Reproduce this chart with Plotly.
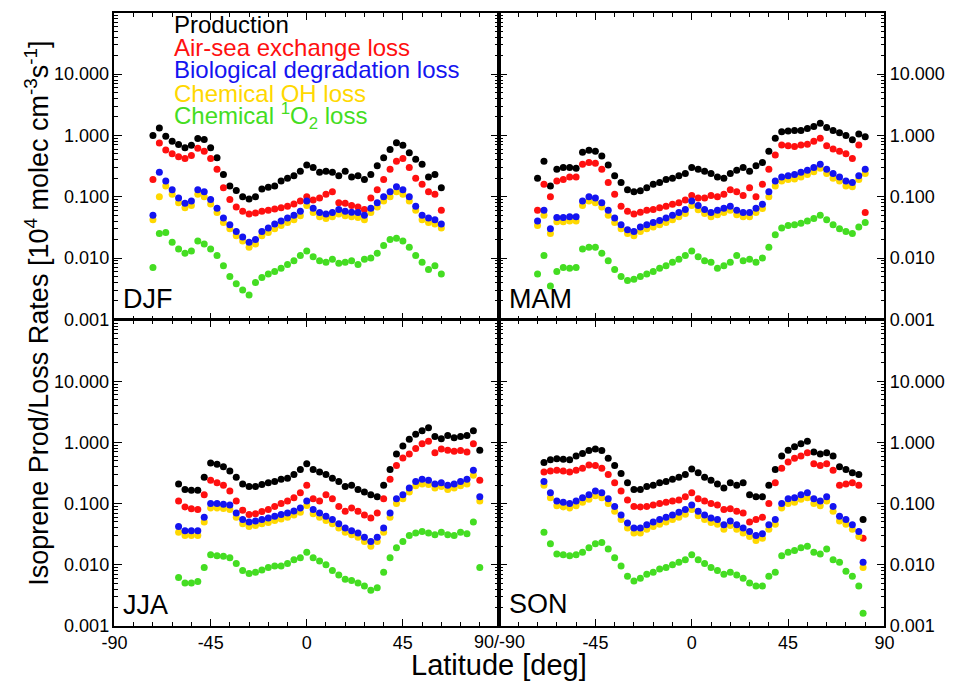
import plotly.graph_objects as go

# ---------------- data ----------------
djf_lat = [-72, -69, -66, -63, -60, -57, -54, -51, -48, -45, -42, -39, -36, -33, -30, -27,
           -24, -21, -18, -15, -12, -9, -6, -3, 0, 3, 6, 9, 12, 15, 18, 21, 24, 27, 30, 33,
           36, 39, 42, 45, 48, 51, 54, 57, 60, 63]
djf_prod = [1.0, 1.32, 0.97, 0.80, 0.71, 0.63, 0.69, 0.89, 0.86, 0.63, 0.43, 0.23, 0.15, 0.126, 0.10, 0.092,
            0.10, 0.134, 0.142, 0.15, 0.18, 0.20, 0.22, 0.26, 0.33, 0.30, 0.25, 0.26, 0.25, 0.22, 0.26, 0.21,
            0.22, 0.19, 0.23, 0.32, 0.43, 0.59, 0.76, 0.69, 0.52, 0.41, 0.34, 0.21, 0.23, 0.14]
djf_airsea = [0.19, 0.75, 0.58, 0.50, 0.45, 0.42, 0.47, 0.62, 0.55, 0.42, 0.28, 0.14, 0.09, 0.068, 0.058, 0.052,
              0.054, 0.058, 0.060, 0.063, 0.066, 0.070, 0.076, 0.085, 0.10, 0.088, 0.095, 0.11, 0.12, 0.08, 0.078, 0.072,
              0.068, 0.062, 0.095, 0.13, 0.19, 0.28, 0.38, 0.42, 0.30, 0.20, 0.16, 0.12, 0.11, 0.06]
djf_bio = [0.05, 0.25, 0.18, 0.13, 0.095, 0.078, 0.085, 0.13, 0.12, 0.09, 0.065, 0.045, 0.035, 0.027, 0.022, 0.018,
           0.020, 0.027, 0.031, 0.036, 0.040, 0.045, 0.050, 0.058, 0.085, 0.065, 0.055, 0.052, 0.055, 0.062, 0.058, 0.056,
           0.055, 0.050, 0.065, 0.080, 0.10, 0.12, 0.145, 0.13, 0.10, 0.07, 0.05, 0.045, 0.042, 0.036]
djf_oh = [0.042, 0.10, 0.15, 0.11, 0.08, 0.066, 0.072, 0.11, 0.10, 0.076, 0.055, 0.038, 0.030, 0.023, 0.019, 0.015,
          0.017, 0.023, 0.026, 0.030, 0.034, 0.038, 0.042, 0.049, 0.072, 0.055, 0.047, 0.044, 0.047, 0.052, 0.049, 0.047,
          0.046, 0.042, 0.055, 0.068, 0.085, 0.10, 0.12, 0.11, 0.085, 0.06, 0.042, 0.038, 0.036, 0.031]
djf_o2 = [0.007, 0.025, 0.026, 0.018, 0.014, 0.012, 0.013, 0.019, 0.017, 0.014, 0.011, 0.0075, 0.005, 0.0038, 0.003, 0.0025,
          0.004, 0.0048, 0.0055, 0.006, 0.0068, 0.0078, 0.009, 0.011, 0.013, 0.0105, 0.009, 0.0085, 0.0095, 0.0082, 0.0085, 0.009,
          0.0078, 0.0095, 0.010, 0.012, 0.016, 0.020, 0.021, 0.019, 0.015, 0.011, 0.0085, 0.0065, 0.0075, 0.0055]

mam_lat = [-72, -69, -66, -63, -60, -57, -54, -51, -48, -45, -42, -39, -36, -33, -30, -27,
           -24, -21, -18, -15, -12, -9, -6, -3, 0, 3, 6, 9, 12, 15, 18, 21, 24, 27, 30, 33,
           36, 39, 42, 45, 48, 51, 54, 57, 60, 63, 66, 69, 72, 75, 78, 81]
mam_prod = [0.2, 0.38, 0.15, 0.28, 0.30, 0.30, 0.29, 0.53, 0.57, 0.55, 0.46, 0.33, 0.22, 0.17, 0.13, 0.12,
            0.125, 0.14, 0.16, 0.17, 0.19, 0.20, 0.22, 0.24, 0.30, 0.28, 0.26, 0.24, 0.21, 0.20, 0.24, 0.27,
            0.30, 0.26, 0.32, 0.36, 0.55, 0.90, 1.15, 1.18, 1.2, 1.2, 1.3, 1.4, 1.58, 1.35, 1.2, 1.1,
            1.0, 0.85, 1.05, 0.95]
mam_airsea = [0.06, 0.16, 0.10, 0.18, 0.19, 0.21, 0.21, 0.34, 0.36, 0.35, 0.28, 0.17, 0.11, 0.07, 0.058, 0.052,
              0.056, 0.06, 0.062, 0.066, 0.07, 0.075, 0.08, 0.088, 0.105, 0.095, 0.095, 0.105, 0.10, 0.11, 0.13, 0.12,
              0.105, 0.14, 0.10, 0.16, 0.28, 0.48, 0.70, 0.68, 0.66, 0.70, 0.72, 0.80, 0.90, 0.68, 0.60, 0.55,
              0.50, 0.42, 0.70, 0.055]
mam_bio = [0.04, 0.06, 0.03, 0.046, 0.046, 0.047, 0.047, 0.085, 0.10, 0.095, 0.08, 0.06, 0.045, 0.035, 0.029, 0.027,
           0.032, 0.035, 0.038, 0.041, 0.045, 0.05, 0.055, 0.062, 0.085, 0.072, 0.062, 0.055, 0.06, 0.065, 0.07, 0.06,
           0.055, 0.055, 0.065, 0.075, 0.12, 0.18, 0.21, 0.22, 0.23, 0.25, 0.27, 0.30, 0.34, 0.28, 0.24, 0.21,
           0.18, 0.17, 0.22, 0.28]
mam_oh = [0.034, 0.05, 0.025, 0.039, 0.039, 0.04, 0.04, 0.072, 0.085, 0.08, 0.068, 0.05, 0.038, 0.03, 0.025, 0.023,
          0.027, 0.03, 0.032, 0.035, 0.038, 0.042, 0.047, 0.053, 0.072, 0.061, 0.053, 0.047, 0.051, 0.055, 0.06, 0.051,
          0.047, 0.047, 0.055, 0.064, 0.10, 0.15, 0.18, 0.19, 0.195, 0.21, 0.23, 0.255, 0.29, 0.24, 0.20, 0.18,
          0.15, 0.145, 0.19, 0.24]
mam_o2 = [0.0055, 0.011, 0.0035, 0.006, 0.007, 0.0068, 0.007, 0.014, 0.015, 0.015, 0.012, 0.009, 0.0065, 0.005, 0.0043, 0.0045,
          0.005, 0.0055, 0.006, 0.0068, 0.0075, 0.0085, 0.0095, 0.011, 0.013, 0.0105, 0.009, 0.0085, 0.0068, 0.0075, 0.0085, 0.011,
          0.009, 0.0095, 0.0085, 0.010, 0.015, 0.024, 0.031, 0.034, 0.035, 0.037, 0.04, 0.044, 0.05, 0.042, 0.035, 0.03,
          0.027, 0.025, 0.032, 0.038]

jja_lat = [-60, -57, -54, -51, -48, -45, -42, -39, -36, -33, -30, -27, -24, -21, -18, -15,
           -12, -9, -6, -3, 0, 3, 6, 9, 12, 15, 18, 21, 24, 27, 30, 33,
           36, 39, 42, 45, 48, 51, 54, 57, 60, 63, 66, 69, 72, 75, 78, 81]
jja_prod = [0.21, 0.17, 0.165, 0.165, 0.27, 0.46, 0.44, 0.40, 0.34, 0.27, 0.21, 0.19, 0.19, 0.205, 0.22, 0.23,
            0.25, 0.26, 0.30, 0.36, 0.45, 0.36, 0.33, 0.30, 0.26, 0.23, 0.19, 0.20, 0.17, 0.155, 0.14, 0.13,
            0.20, 0.36, 0.65, 0.88, 1.13, 1.36, 1.55, 1.75, 1.25, 1.15, 1.3, 1.2, 1.25, 1.3, 1.55, 0.75]
jja_airsea = [0.11, 0.088, 0.082, 0.080, 0.14, 0.24, 0.22, 0.20, 0.16, 0.11, 0.078, 0.066, 0.068, 0.074, 0.08, 0.09,
              0.10, 0.11, 0.125, 0.15, 0.20, 0.12, 0.11, 0.14, 0.12, 0.09, 0.075, 0.085, 0.075, 0.065, 0.058, 0.07,
              0.12, 0.25, 0.42, 0.56, 0.65, 0.8, 0.95, 1.05, 0.68, 0.78, 0.75, 0.72, 0.74, 0.7, 0.95, 0.24]
jja_bio = [0.042, 0.036, 0.036, 0.036, 0.06, 0.10, 0.10, 0.098, 0.095, 0.07, 0.055, 0.05, 0.052, 0.055, 0.058, 0.062,
           0.066, 0.07, 0.076, 0.085, 0.11, 0.08, 0.07, 0.062, 0.055, 0.047, 0.04, 0.036, 0.033, 0.028, 0.024, 0.028,
           0.04, 0.07, 0.12, 0.14, 0.18, 0.23, 0.25, 0.24, 0.21, 0.22, 0.2, 0.21, 0.23, 0.25, 0.35, 0.13]
jja_oh = [0.034, 0.03, 0.03, 0.03, 0.05, 0.085, 0.085, 0.083, 0.08, 0.06, 0.047, 0.042, 0.044, 0.047, 0.049, 0.053,
          0.056, 0.06, 0.065, 0.072, 0.093, 0.068, 0.06, 0.053, 0.047, 0.04, 0.034, 0.031, 0.028, 0.024, 0.02, 0.024,
          0.034, 0.06, 0.1, 0.12, 0.155, 0.195, 0.21, 0.205, 0.18, 0.19, 0.17, 0.18, 0.195, 0.21, 0.29, 0.11]
jja_o2 = [0.0062, 0.005, 0.005, 0.0053, 0.009, 0.0145, 0.014, 0.0138, 0.013, 0.0105, 0.008, 0.0072, 0.0075, 0.0082, 0.009, 0.0095,
          0.0095, 0.0105, 0.012, 0.013, 0.016, 0.013, 0.0115, 0.01, 0.008, 0.0068, 0.0058, 0.0055, 0.005, 0.0045, 0.0038, 0.0042,
          0.0075, 0.013, 0.019, 0.024, 0.03, 0.033, 0.035, 0.033, 0.031, 0.034, 0.031, 0.03, 0.034, 0.032, 0.05, 0.009]

son_lat = [-69, -66, -63, -60, -57, -54, -51, -48, -45, -42, -39, -36, -33, -30, -27, -24,
           -21, -18, -15, -12, -9, -6, -3, 0, 3, 6, 9, 12, 15, 18, 21, 24,
           27, 30, 33, 36, 39, 42, 45, 48, 51, 54, 57, 60, 63, 66, 69, 72, 75, 78, 80]
son_prod = [0.47, 0.52, 0.54, 0.53, 0.52, 0.6, 0.66, 0.74, 0.78, 0.74, 0.55, 0.42, 0.31, 0.22, 0.17, 0.17,
            0.19, 0.2, 0.22, 0.23, 0.25, 0.27, 0.3, 0.37, 0.32, 0.27, 0.24, 0.21, 0.18, 0.22, 0.2, 0.22,
            0.14, 0.13, 0.13, 0.2, 0.36, 0.6, 0.75, 0.85, 0.95, 1.05, 0.7, 0.65, 0.68, 0.6, 0.4, 0.36, 0.32, 0.3, 0.055]
son_airsea = [0.33, 0.34, 0.35, 0.34, 0.33, 0.35, 0.38, 0.43, 0.42, 0.38, 0.30, 0.22, 0.16, 0.115, 0.09, 0.088,
              0.09, 0.095, 0.1, 0.105, 0.11, 0.115, 0.13, 0.15, 0.12, 0.11, 0.1, 0.095, 0.08, 0.082, 0.075, 0.07,
              0.05, 0.055, 0.06, 0.1, 0.22, 0.38, 0.48, 0.55, 0.6, 0.68, 0.45, 0.42, 0.45, 0.35, 0.2, 0.21, 0.22, 0.2, 0.027]
son_bio = [0.23, 0.15, 0.11, 0.105, 0.1, 0.11, 0.125, 0.14, 0.16, 0.15, 0.12, 0.09, 0.065, 0.048, 0.04, 0.04,
           0.045, 0.05, 0.055, 0.06, 0.065, 0.072, 0.08, 0.095, 0.075, 0.065, 0.058, 0.055, 0.045, 0.052, 0.045, 0.04,
           0.035, 0.03, 0.032, 0.045, 0.055, 0.1, 0.12, 0.125, 0.14, 0.15, 0.12, 0.11, 0.13, 0.09, 0.062, 0.055, 0.045, 0.035, 0.011]
son_oh = [0.2, 0.125, 0.092, 0.088, 0.085, 0.092, 0.105, 0.118, 0.135, 0.125, 0.1, 0.075, 0.055, 0.04, 0.033, 0.033,
          0.038, 0.042, 0.046, 0.05, 0.055, 0.06, 0.067, 0.08, 0.063, 0.055, 0.049, 0.046, 0.038, 0.044, 0.038, 0.033,
          0.029, 0.025, 0.027, 0.038, 0.046, 0.085, 0.1, 0.105, 0.118, 0.125, 0.1, 0.092, 0.11, 0.075, 0.052, 0.046, 0.038, 0.029, 0.009]
son_o2 = [0.034, 0.022, 0.015, 0.0145, 0.014, 0.0145, 0.016, 0.019, 0.022, 0.023, 0.018, 0.013, 0.0095, 0.0065, 0.0054, 0.006,
          0.007, 0.0075, 0.0085, 0.009, 0.01, 0.011, 0.012, 0.0145, 0.012, 0.0105, 0.009, 0.008, 0.007, 0.0075, 0.0068, 0.006,
          0.005, 0.0045, 0.0045, 0.0065, 0.0075, 0.014, 0.016, 0.017, 0.019, 0.02, 0.016, 0.015, 0.018, 0.012, 0.011, 0.0078, 0.0065, 0.0045, 0.0016]

season_names = ["DJF", "MAM", "JJA", "SON"]
series_names = ["Production", "Air-sea exchange loss", "Biological degradation loss",
                "Chemical OH loss", "Chemical <sup>1</sup>O<sub>2</sub> loss"]
y_tickvals = [0.001, 0.01, 0.1, 1, 10]
y_ticktext = ["0.001", "0.010", "0.100", "1.000", "10.000"]
x_tickvals_top = [-90, -45, 0, 45, 90]
x_tickvals_left = [-90, -45, 0, 45]
x_ticktext_left = ["-90", "-45", "0", "45"]
x_tickvals_right = [-45, 0, 45, 90]
x_ticktext_right = ["-45", "0", "45", "90"]

# ---------------- styling ----------------
W, H = 955, 690
FONT = "Liberation Sans, Arial, Helvetica, sans-serif"
C_PROD, C_AIR, C_BIO, C_OH, C_O2 = "#000000", "#ff1010", "#1414f0", "#ffd800", "#44dd22"
series_colors = [C_PROD, C_AIR, C_BIO, C_OH, C_O2]

def fx(p):
    return p / W

def fy(p):
    return 1 - p / H

panels = [
    (djf_lat, djf_prod, djf_airsea, djf_bio, djf_oh, djf_o2),
    (mam_lat, mam_prod, mam_airsea, mam_bio, mam_oh, mam_o2),
    (jja_lat, jja_prod, jja_airsea, jja_bio, jja_oh, jja_o2),
    (son_lat, son_prod, son_airsea, son_bio, son_oh, son_o2),
]

fig = go.Figure()
for i, (lat, prod, air, bio, oh, o2) in enumerate(panels):
    xa = "x" if i == 0 else f"x{i+1}"
    ya = "y" if i == 0 else f"y{i+1}"
    # draw order: production, air-sea, OH (under blue), bio, 1O2
    for vals, col in [(prod, C_PROD), (air, C_AIR), (oh, C_OH), (bio, C_BIO), (o2, C_O2)]:
        fig.add_trace(go.Scatter(x=lat, y=vals, mode="markers", xaxis=xa, yaxis=ya,
                                 marker=dict(color=col, size=7, line=dict(width=0)),
                                 showlegend=False, hoverinfo="skip"))

xdom_left = [fx(104), fx(498)]
xdom_right = [fx(498), fx(893)]
ydom_top = [fy(324), fy(13)]
ydom_bot = [fy(635), fy(325)]

minor_x = [-81, -72, -63, -54, -36, -27, -18, -9, 9, 18, 27, 36, 54, 63, 72, 81]
minor_y = [m * 10 ** e for e in range(-3, 2) for m in range(2, 10)]

def xaxis(domain, anchor, labels, tickvals, ticktext):
    d = dict(domain=domain, anchor=anchor, range=[-90, 90], showgrid=False, zeroline=False,
             showline=True, linecolor="black", linewidth=1.5, mirror="allticks",
             ticks="inside", ticklen=7, tickwidth=1.2, tickcolor="black",
             tickmode="array", tickvals=tickvals,
             showticklabels=labels, tickfont=dict(family=FONT, size=18, color="black"),
             minor=dict(tickmode="array", tickvals=minor_x, ticks="inside", ticklen=4,
                        tickwidth=1, tickcolor="black"))
    if ticktext is not None:
        d["ticktext"] = ticktext
    return d

def yaxis(domain, anchor, side, labels):
    return dict(domain=domain, anchor=anchor, type="log", range=[-3, 2], side=side,
                showgrid=False, zeroline=False, showline=True, linecolor="black", linewidth=1.5,
                mirror="allticks", ticks="inside", ticklen=8, tickwidth=1.2, tickcolor="black",
                tickmode="array", tickvals=y_tickvals, ticktext=y_ticktext,
                showticklabels=labels, tickfont=dict(family=FONT, size=18, color="black"),
                minor=dict(tickmode="array", tickvals=minor_y, ticks="inside", ticklen=4,
                           tickwidth=1, tickcolor="black"))

fig.update_layout(
    width=W, height=H, margin=dict(l=0, r=0, t=0, b=0),
    paper_bgcolor="white", plot_bgcolor="white", showlegend=False,
    xaxis=xaxis(xdom_left, "y", False, x_tickvals_top, None),
    yaxis=yaxis(ydom_top, "x", "left", True),
    xaxis2=xaxis(xdom_right, "y2", False, x_tickvals_top, None),
    yaxis2=yaxis(ydom_top, "x2", "right", True),
    xaxis3=xaxis(xdom_left, "y3", True, x_tickvals_left, x_ticktext_left),
    yaxis3=yaxis(ydom_bot, "x3", "left", True),
    xaxis4=xaxis(xdom_right, "y4", True, x_tickvals_right, x_ticktext_right),
    yaxis4=yaxis(ydom_bot, "x4", "right", True),
)

ann = []
# season labels
for name, (px, py) in zip(season_names, [(112, 303), (507, 303), (112, 614), (507, 613)]):
    ann.append(dict(text=name, x=fx(px), y=fy(py), xref="paper", yref="paper",
                    xanchor="left", yanchor="middle", showarrow=False, borderpad=0,
                    font=dict(family=FONT, size=27, color="black")))
# legend text
for name, col, py in zip(series_names, series_colors, [25, 48, 71, 95, 118]):
    ann.append(dict(text=name, x=fx(164), y=fy(py), xref="paper", yref="paper",
                    xanchor="left", yanchor="middle", showarrow=False, borderpad=0,
                    font=dict(family=FONT, size=24, color=col)))
# junction label
ann.append(dict(text="90/-90", x=fx(498), y=fy(651), xref="paper", yref="paper",
                xanchor="center", yanchor="middle", showarrow=False, borderpad=0,
                font=dict(family=FONT, size=18, color="black")))
# axis titles
ann.append(dict(text="Latitude [deg]", x=fx(498), y=fy(675), xref="paper", yref="paper",
                xanchor="center", yanchor="middle", showarrow=False, borderpad=0,
                font=dict(family=FONT, size=29, color="black")))
ann.append(dict(text="Isoprene Prod/Loss Rates [10<sup>4</sup> molec cm<sup>-3</sup>s<sup>-1</sup>]",
                x=fx(25), y=fy(318), xref="paper", yref="paper", textangle=-90,
                xanchor="center", yanchor="middle", showarrow=False, borderpad=0,
                font=dict(family=FONT, size=27, color="black")))
fig.update_layout(annotations=ann)

fig.write_html("out.html")
